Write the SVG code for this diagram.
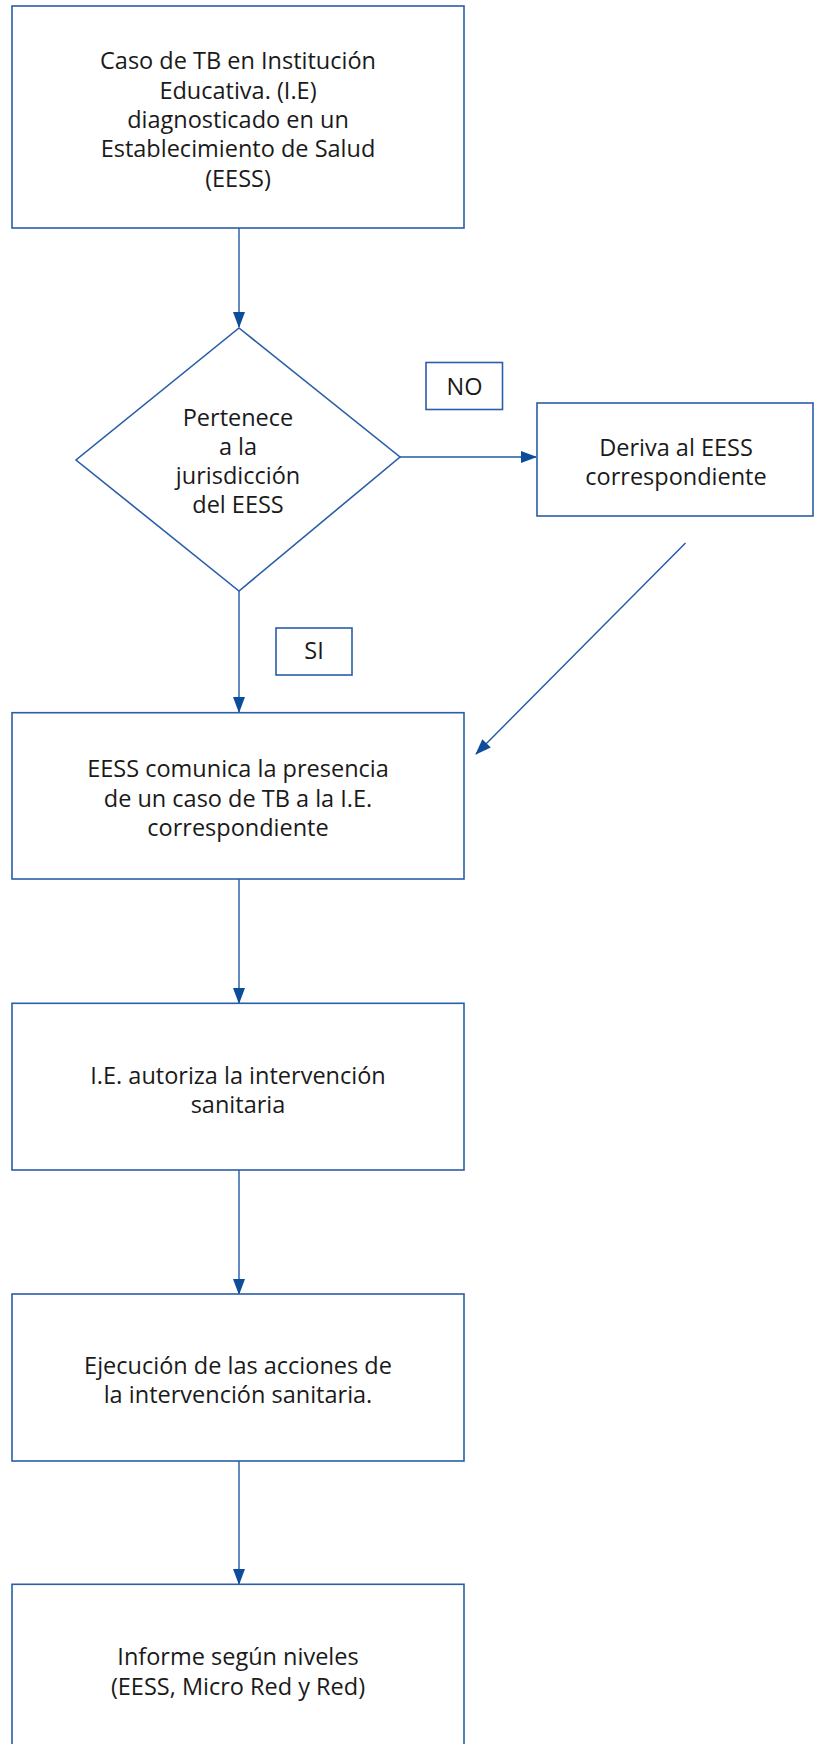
<svg xmlns="http://www.w3.org/2000/svg" width="814" height="1744" viewBox="0 0 814 1744">
<defs>
<style>
.box{fill:#ffffff;stroke:#2a5ea8;stroke-width:1.6}
.lbl{fill:#ffffff;stroke:#2a5ea8;stroke-width:1.6}
.conn{fill:none;stroke:#1f59a3;stroke-width:1.4}
.t{font-family:"Open Sans",Lato,"Liberation Sans",sans-serif;font-size:23.5px;fill:#1a1a1a;text-anchor:middle}
</style>
<marker id="ah" markerUnits="userSpaceOnUse" markerWidth="16" markerHeight="12" refX="15" refY="6" orient="auto">
<path d="M0,0 L16,6 L0,12 z" fill="#0d4c98"/>
</marker>
</defs>
<rect width="814" height="1744" fill="#ffffff"/>

<g id="connectors">
<line class="conn" x1="239" y1="228" x2="239" y2="327" marker-end="url(#ah)"/>
<line class="conn" x1="400" y1="457" x2="536" y2="457" marker-end="url(#ah)"/>
<line class="conn" x1="685.5" y1="543" x2="476" y2="754" marker-end="url(#ah)"/>
<line class="conn" x1="239" y1="591" x2="239" y2="712" marker-end="url(#ah)"/>
<line class="conn" x1="239" y1="879" x2="239" y2="1003" marker-end="url(#ah)"/>
<line class="conn" x1="239" y1="1170" x2="239" y2="1294" marker-end="url(#ah)"/>
<line class="conn" x1="239" y1="1461" x2="239" y2="1584" marker-end="url(#ah)"/>
</g>

<g id="n1">
<rect class="box" x="12" y="6" width="452" height="222"/>
<text class="t" x="238" y="69">Caso de TB en Institución</text>
<text class="t" x="238" y="99">Educativa. (I.E)</text>
<text class="t" x="238" y="128">diagnosticado en un</text>
<text class="t" x="238" y="157">Establecimiento de Salud</text>
<text class="t" x="238" y="187">(EESS)</text>
</g>

<g id="n2">
<polygon class="box" points="239,328 400,457 239,591 76,460"/>
<text class="t" x="238" y="426">Pertenece</text>
<text class="t" x="238" y="455">a la</text>
<text class="t" x="238" y="484">jurisdicción</text>
<text class="t" x="238" y="513">del EESS</text>
</g>

<g id="lbl-no">
<rect class="lbl" x="426" y="362.5" width="76.5" height="47"/>
<text class="t" x="464.5" y="395">NO</text>
</g>

<g id="n3">
<rect class="box" x="537" y="403" width="276" height="113"/>
<text class="t" x="676" y="456">Deriva al EESS</text>
<text class="t" x="676" y="485">correspondiente</text>
</g>

<g id="lbl-si">
<rect class="lbl" x="276" y="628" width="76" height="47"/>
<text class="t" x="314" y="659">SI</text>
</g>

<g id="n4">
<rect class="box" x="12" y="712.7" width="452" height="166.3"/>
<text class="t" x="238" y="777">EESS comunica la presencia</text>
<text class="t" x="238" y="807">de un caso de TB a la I.E.</text>
<text class="t" x="238" y="836">correspondiente</text>
</g>

<g id="n5">
<rect class="box" x="12" y="1003.3" width="452" height="166.7"/>
<text class="t" x="238" y="1084">I.E. autoriza la intervención</text>
<text class="t" x="238" y="1113">sanitaria</text>
</g>

<g id="n6">
<rect class="box" x="12" y="1294" width="452" height="167"/>
<text class="t" x="238" y="1374">Ejecución de las acciones de</text>
<text class="t" x="238" y="1403">la intervención sanitaria.</text>
</g>

<g id="n7">
<rect class="box" x="12" y="1584.3" width="452" height="165"/>
<text class="t" x="238" y="1665">Informe según niveles</text>
<text class="t" x="238" y="1695">(EESS, Micro Red y Red)</text>
</g>
</svg>
